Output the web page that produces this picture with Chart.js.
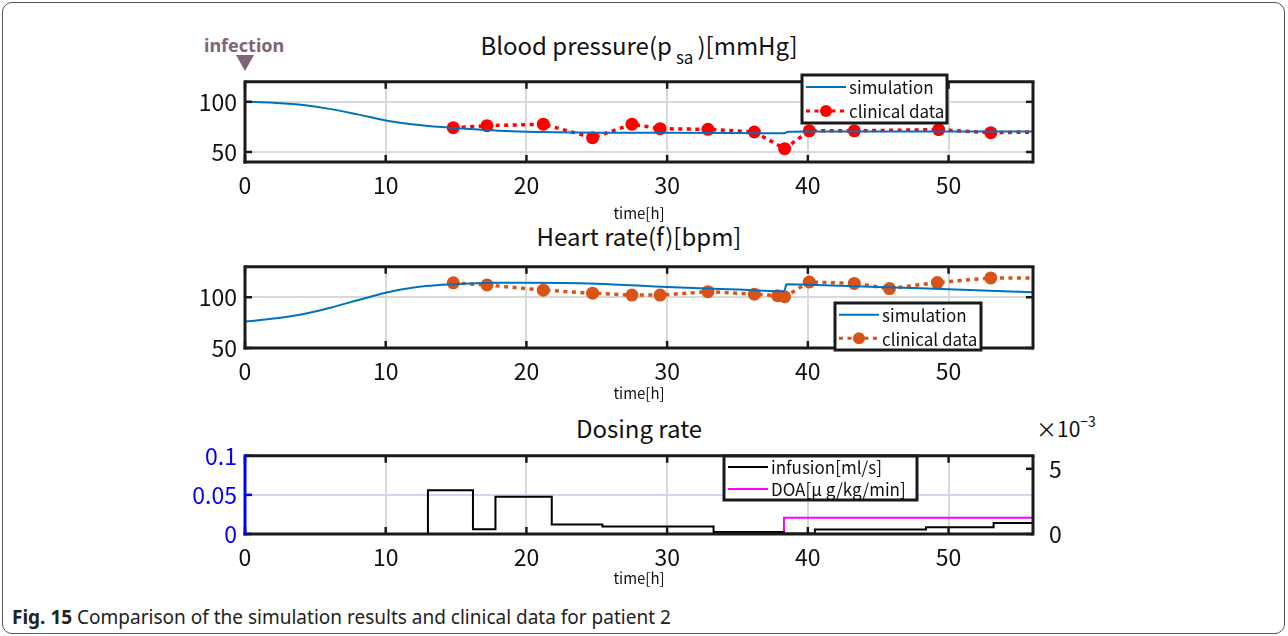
<!DOCTYPE html>
<html>
<head>
<meta charset="utf-8">
<script src="https://cdn.jsdelivr.net/npm/chart.js@4.4.1/dist/chart.umd.min.js"></script>
<style>
  body { margin: 0; width: 1288px; height: 636px; position: relative; overflow: hidden; background: #fff;
         font-family: "Noto Sans CJK JP", "Noto Sans", sans-serif; color: #111; }
  .frame { position: absolute; left: 2px; top: 2px; width: 1281px; height: 630px; border: 1.5px solid #555; border-radius: 10px; }
  canvas { position: absolute; left: 0; }
  .ttl { position: absolute; left: 0; width: 1278px; text-align: center; font-size: 24px; line-height: 1; }
  .ttl sub { font-size: 17px; vertical-align: -9px; margin: 0 4px; }
  .inf { position: absolute; left: 204px; top: 33px; font: bold 18px "Noto Sans", sans-serif; color: #7d6479; }
  .tri { position: absolute; left: 236px; top: 55px; width: 0; height: 0;
         border-left: 9px solid transparent; border-right: 9px solid transparent; border-top: 16px solid #7d6479; }
  .exp { position: absolute; left: 1036px; top: 411px; font-size: 21px; }
  .exp sup { font-size: 14px; vertical-align: 10px; }
  .cap { position: absolute; left: 12px; top: 604px; font: 19px "Noto Sans", sans-serif; color: #222; }
</style>
</head>
<body>
<div class="frame"></div>
<div class="inf">infection</div>
<div class="tri"></div>
<div class="ttl" style="top:33px">Blood pressure(p<sub>sa</sub>)[mmHg]</div>
<div class="ttl" style="top:224px">Heart rate(f)[bpm]</div>
<div class="ttl" style="top:416px">Dosing rate</div>
<div class="exp">×10<sup>−3</sup></div>
<canvas id="bpChart" width="1288" height="165" style="top:60px"></canvas>
<canvas id="hrChart" width="1288" height="160" style="top:245px"></canvas>
<canvas id="doseChart" width="1288" height="156" style="top:434px"></canvas>
<div class="cap"><b>Fig. 15</b> Comparison of the simulation results and clinical data for patient 2</div>
<script>
// shared time axis
const xTicks = [0, 10, 20, 30, 40, 50];
const xMax = 56;

// blood pressure
const bpSimT = [0, 2, 4, 6, 8, 10, 12, 14, 16, 18, 20, 22, 25, 30, 35, 37, 38.3, 38.6, 40, 45, 50, 56];
const bpSimV = [100, 99.2, 97, 93, 87.5, 81.5, 77.5, 74.8, 72.8, 71.2, 70.2, 69.7, 69.3, 69.1, 69, 68.6, 68.6, 70.2, 70.5, 70.5, 70.5, 70.5];
const bpClinT = [14.8, 17.2, 21.2, 24.7, 27.5, 29.5, 32.9, 36.2, 38.35, 40.1, 43.3, 49.3, 53.0, 57];
const bpClinV = [74.2, 76.2, 77.7, 64.3, 77.7, 73.2, 72.6, 69.9, 53.3, 71.1, 71.1, 72.3, 69.3, 70];
const bpTicks = [50, 100];

// heart rate
const hrSimT = [0, 2, 4, 6, 8, 10, 12, 14, 16, 18, 20, 25, 30, 35, 38.3, 38.5, 40, 45, 50, 56];
const hrSimV = [76, 79, 83, 89.5, 97, 104.5, 109.5, 112.2, 113.6, 114.2, 114.3, 113.3, 110, 107.6, 106, 112.8, 112.3, 110.2, 107.8, 105];
const hrClinT = [14.8, 17.2, 21.2, 24.7, 27.5, 29.5, 32.9, 36.2, 37.85, 38.35, 40.1, 43.3, 45.8, 49.2, 53.0, 57];
const hrClinV = [114.2, 112.1, 107, 104, 102.1, 102.1, 105.5, 103, 101.5, 100.5, 115, 113.6, 108.5, 114.5, 119, 119];
const hrTicks = [50, 100];

// dosing rate (step changes)
const infT = [0, 13, 16.2, 17.8, 21.8, 25.4, 33.3, 38.3, 40.5, 48.4, 53.2, 56];
const infV = [0, 0.056, 0.006, 0.0475, 0.012, 0.0095, 0.0027, 0.0006, 0.0057, 0.0087, 0.014, 0.014];
const doaT = [0, 38.3, 56];
const doaV = [0, 0.00125, 0.00125];
const doseTicksL = [0, 0.05, 0.1];
const doseTicksR = [0, 0.005];

const simBlue = '#0072BD';
const pts = (t, v) => t.map((x, i) => ({ x, y: v[i] }));
const tickFont = { family: '"Noto Sans CJK JP", sans-serif', size: 23 };

function line(ctx, x1, y1, x2, y2) {
    ctx.beginPath(); ctx.moveTo(x1, y1); ctx.lineTo(x2, y2); ctx.stroke();
}

// MATLAB-like box: inward ticks, frame and a legend drawn inside the axes
const matlabBox = {
    id: 'matlabBox',
    afterDatasetsDraw(chart, args, opts) {
        const { ctx, chartArea: a, scales } = chart;
        const left = opts.leftColor || '#1a1a1a';
        ctx.save();
        ctx.lineWidth = 2.5;
        ctx.strokeStyle = '#1a1a1a';
        scales.x.ticks.forEach(t => {
            const px = scales.x.getPixelForValue(t.value);
            line(ctx, px, a.bottom, px, a.bottom - 7);
            line(ctx, px, a.top, px, a.top + 7);
        });
        scales.y.ticks.forEach(t => {
            const py = scales.y.getPixelForValue(t.value);
            ctx.strokeStyle = left;
            line(ctx, a.left, py, a.left + 7, py);
            if (!scales.y1) {
                ctx.strokeStyle = '#1a1a1a';
                line(ctx, a.right, py, a.right - 7, py);
            }
        });
        if (scales.y1) {
            ctx.strokeStyle = '#1a1a1a';
            scales.y1.ticks.forEach(t => {
                const py = scales.y1.getPixelForValue(t.value);
                line(ctx, a.right, py, a.right - 7, py);
            });
        }
        ctx.lineWidth = 3;
        ctx.strokeStyle = '#1a1a1a';
        line(ctx, a.left, a.top, a.right + 1.5, a.top);
        line(ctx, a.right, a.top, a.right, a.bottom + 1.5);
        line(ctx, a.left - 1.5, a.bottom, a.right, a.bottom);
        ctx.strokeStyle = left;
        line(ctx, a.left, a.top - 1.5, a.left, a.bottom + 1.5);

        const lg = opts.legend;
        if (lg) {
            ctx.fillStyle = '#fff';
            ctx.fillRect(lg.x, lg.y, lg.w, lg.h);
            ctx.lineWidth = 3;
            ctx.strokeStyle = '#1a1a1a';
            ctx.strokeRect(lg.x, lg.y, lg.w, lg.h);
            ctx.font = '17px "Noto Sans CJK JP", sans-serif';
            ctx.textBaseline = 'middle';
            lg.rows.forEach((r, i) => {
                const ry = lg.y + lg.h * (i + 0.5) / lg.rows.length;
                ctx.strokeStyle = r.color;
                ctx.lineWidth = r.dash ? 3 : 2;
                ctx.setLineDash(r.dash || []);
                line(ctx, lg.x + 4, ry, lg.x + 44, ry);
                ctx.setLineDash([]);
                if (r.marker) {
                    ctx.fillStyle = r.color;
                    ctx.beginPath(); ctx.arc(lg.x + 24, ry, 6, 0, Math.PI * 2); ctx.fill();
                }
                ctx.fillStyle = '#111';
                ctx.fillText(r.label, lg.x + 47, ry + 1);
            });
        }
        ctx.restore();
    }
};

function xScale(axisHeight) {
    return {
        type: 'linear', min: 0, max: xMax,
        afterBuildTicks: s => { s.ticks = xTicks.map(v => ({ value: v })); },
        afterFit: s => { s.height = axisHeight; },
        grid: { color: '#d9d9d9', lineWidth: 2, drawTicks: false },
        border: { display: false },
        ticks: { color: '#111', font: tickFont, padding: 9, maxRotation: 0 },
        title: { display: true, text: 'time[h]', color: '#111',
                 font: { family: '"Noto Sans CJK JP", sans-serif', size: 15 }, padding: { top: 0, bottom: 3 } }
    };
}

function yScale(min, max, ticks, color, gridColor) {
    return {
        type: 'linear', min, max,
        afterBuildTicks: s => { s.ticks = ticks.map(v => ({ value: v })); },
        afterFit: s => { s.width = 60; },
        grid: { color: gridColor || '#d9d9d9', lineWidth: 2, drawTicks: false },
        border: { display: false },
        ticks: { color: color || '#111', font: tickFont, padding: 8, callback: v => String(v) }
    };
}

const baseOptions = (padding, scales, box) => ({
    responsive: false,
    animation: false,
    devicePixelRatio: 1,
    layout: { padding },
    scales,
    plugins: { legend: { display: false }, tooltip: { enabled: false }, title: { display: false }, matlabBox: box }
});

// blood pressure
new Chart(document.getElementById('bpChart'), {
    type: 'line',
    data: {
        datasets: [{
            data: pts(bpSimT, bpSimV), borderColor: simBlue, borderWidth: 2,
            pointRadius: 0, cubicInterpolationMode: 'monotone'
        }, {
            data: pts(bpClinT, bpClinV), borderColor: '#ff0000', backgroundColor: '#ff0000',
            borderWidth: 3.5, borderDash: [4, 4.5],
            pointRadius: bpClinT.map((t, i) => i === bpClinT.length - 1 ? 0 : 6.5), pointBorderWidth: 0
        }]
    },
    options: baseOptions({ left: 185, right: 255, top: 14, bottom: 0 },
        { x: xScale(63), y: yScale(40, 120, bpTicks) },
        { legend: { x: 802, y: 15, w: 145, h: 48, rows: [
            { label: 'simulation', color: simBlue },
            { label: 'clinical data', color: '#ff0000', dash: [4, 4.5], marker: true }] } }),
    plugins: [matlabBox]
});

// heart rate
new Chart(document.getElementById('hrChart'), {
    type: 'line',
    data: {
        datasets: [{
            data: pts(hrSimT, hrSimV), borderColor: simBlue, borderWidth: 2,
            pointRadius: 0, cubicInterpolationMode: 'monotone'
        }, {
            data: pts(hrClinT, hrClinV), borderColor: '#D95319', backgroundColor: '#D95319',
            borderWidth: 3.5, borderDash: [4, 4.5],
            pointRadius: hrClinT.map((t, i) => i === hrClinT.length - 1 ? 0 : 6.5), pointBorderWidth: 0
        }]
    },
    options: baseOptions({ left: 185, right: 255, top: 14, bottom: 0 },
        { x: xScale(57), y: yScale(50, 130, hrTicks) },
        { legend: { x: 835, y: 58, w: 146, h: 47, rows: [
            { label: 'simulation', color: simBlue },
            { label: 'clinical data', color: '#D95319', dash: [4, 4.5], marker: true }] } }),
    plugins: [matlabBox]
});

// dosing rate
const doseY1 = yScale(0, 0.006, doseTicksR);
doseY1.position = 'right';
doseY1.grid = { display: false };
doseY1.ticks.callback = v => String(Math.round(v * 1000));
doseY1.afterFit = s => { s.width = 40; };

new Chart(document.getElementById('doseChart'), {
    type: 'line',
    data: {
        datasets: [{
            data: pts(infT, infV), borderColor: '#000', borderWidth: 2, pointRadius: 0, stepped: true, yAxisID: 'y'
        }, {
            data: pts(doaT, doaV), borderColor: '#ff00ff', borderWidth: 2, pointRadius: 0, stepped: true, yAxisID: 'y1'
        }]
    },
    options: baseOptions({ left: 185, right: 215, top: 14, bottom: 0 },
        { x: xScale(56), y: yScale(0, 0.1, doseTicksL, '#0000ff', '#d4d4f4'), y1: doseY1 },
        { leftColor: '#0000ff', legend: { x: 724, y: 22, w: 193, h: 44, rows: [
            { label: 'infusion[ml/s]', color: '#000' },
            { label: 'DOA[μ g/kg/min]', color: '#ff00ff' }] } }),
    plugins: [matlabBox]
});
</script>
</body>
</html>
